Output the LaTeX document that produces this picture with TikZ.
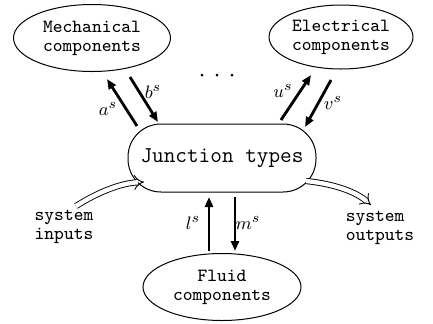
\documentclass[tikz,border=0pt]{standalone}
\usetikzlibrary{arrows.meta,shapes.geometric}
\begin{document}
\begin{tikzpicture}[x=0.5pt,y=-0.5pt,
  comp/.style={ellipse,draw,line width=0.5pt,inner sep=0pt,align=center,
    font=\ttfamily\fontsize{9.3}{9.4}\selectfont},
  junc/.style={draw,line width=0.5pt,rounded corners=16.5pt,minimum width=94pt,
    minimum height=34pt,inner sep=0pt,font=\ttfamily\fontsize{11.3}{13}\selectfont},
  plain/.style={align=left,inner sep=0pt,font=\ttfamily\fontsize{9.3}{9.4}\selectfont},
  flow/.style={line width=1.4pt,-{Triangle[length=5pt,width=4pt]}},
  lab/.style={inner sep=0pt,font=\fontsize{9.5}{10}\selectfont},
  hollow/.style={double,double distance=2.2pt,line width=0.45pt,-{Implies[length=4pt]}}]
\useasboundingbox (0,0) rectangle (433,323);
\node[comp,minimum width=78.5pt,minimum height=33.5pt] (mech) at (92,38) {Mechanical\\components};
\node[comp,minimum width=72pt,minimum height=32pt] (elec) at (341,37) {Electrical\\components};
\node[comp,minimum width=79pt,minimum height=33.5pt] (fluid) at (222,287) {Fluid\\components};
\node[junc] (jt) at (222,158) {Junction types};
\node[plain] (sin) at (64,227) {system\\inputs};
\node[plain] (sout) at (380,228) {system\\outputs};
% connector end points
\coordinate (a1) at (137,126); \coordinate (a2) at (107,79);
\coordinate (b1) at (130,77);  \coordinate (b2) at (158,122);
\coordinate (u1) at (281,120); \coordinate (u2) at (311,75);
\coordinate (v1) at (331,80);  \coordinate (v2) at (305,127);
\coordinate (l1) at (209,251); \coordinate (l2) at (209,197);
\coordinate (m1) at (235,197); \coordinate (m2) at (235,251);
\coordinate (i1) at (76,206);  \coordinate (i2) at (144,182);
\coordinate (o1) at (306,181); \coordinate (o2) at (371,205);
\draw[flow] (a1) -- (a2);
\draw[flow] (b1) -- (b2);
\draw[flow] (u1) -- (u2);
\draw[flow] (v1) -- (v2);
\draw[flow] (l1) -- (l2);
\draw[flow] (m1) -- (m2);
\draw[hollow] (i1) .. controls (100,191) and (122,183) .. (i2);
\draw[hollow] (o1) .. controls (335,184) and (356,192) .. (o2);
\node[lab] (la) at (108,109) {$a^s$};
\node[lab] (lb) at (153,92) {$b^s$};
\node[lab] (lu) at (283,91) {$u^s$};
\node[lab] (lv) at (333,103) {$v^s$};
\node[lab] (ll) at (193,223) {$l^s$};
\node[lab] (lm) at (248,223) {$m^s$};
\foreach \x/\n in {202/d1,217/d2,232/d3} \fill (\x,75) circle (0.75pt);
\end{tikzpicture}
\end{document}
